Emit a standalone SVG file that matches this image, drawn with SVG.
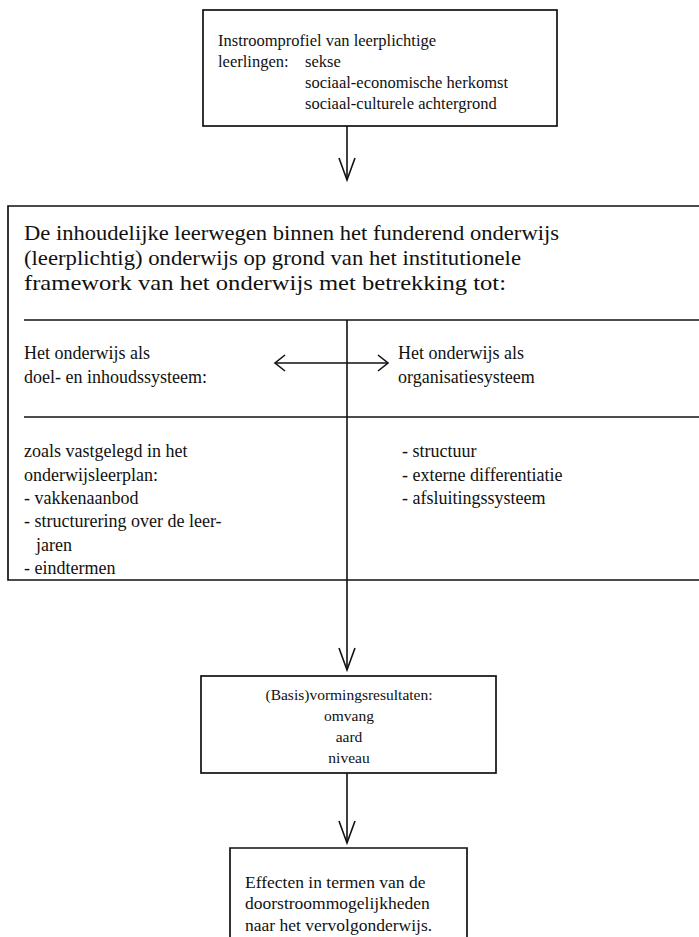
<svg xmlns="http://www.w3.org/2000/svg" width="699" height="937" viewBox="0 0 699 937">
  <style>
    .box { fill: none; stroke: #111; stroke-width: 1.7; }
    .ln { fill: none; stroke: #111; stroke-width: 1.6; }
    .hd { fill: none; stroke: #111; stroke-width: 1.6; stroke-linejoin: miter; }
    text { font-family: "Liberation Serif", "Times New Roman", serif; fill: #111; }
    .t1 { font-size: 16.5px; }
    .th { font-size: 21px; }
    .tm { font-size: 18px; }
    .tb { font-size: 18px; }
    .t3 { font-size: 15.5px; }
    .t4 { font-size: 17.5px; }
  </style>
  <rect width="699" height="937" fill="#fff"/>

  <g id="connectors">
    <!-- intake profile to learning paths -->
    <line class="ln" x1="347" y1="126" x2="347" y2="180"/>
    <polyline class="hd" points="339,158 347,180 355,158"/>
    <!-- central divider continuing to results -->
    <line class="ln" x1="347" y1="320" x2="347" y2="670"/>
    <polyline class="hd" points="339,648 347,670 355,648"/>
    <!-- results to effects -->
    <line class="ln" x1="347" y1="773" x2="347" y2="843"/>
    <polyline class="hd" points="339,821 347,843 355,821"/>
    <!-- two-way relation between the two systems -->
    <line class="ln" x1="275" y1="363" x2="388" y2="363"/>
    <polyline class="hd" points="285,355 275,363 285,371"/>
    <polyline class="hd" points="378,355 388,363 378,371"/>
  </g>

  <g id="instroom">
    <rect class="box" x="203" y="10" width="354" height="116"/>
    <text class="t1" x="218" y="46">Instroomprofiel van leerplichtige</text>
    <text class="t1" x="218" y="67">leerlingen: <tspan x="305">sekse</tspan></text>
    <text class="t1" x="305" y="88">sociaal-economische herkomst</text>
    <text class="t1" x="305" y="109">sociaal-culturele achtergrond</text>
  </g>

  <g id="leerwegen">
    <path class="box" d="M705,206 H8 V580 H705"/>
    <text class="th" x="24" y="240" textLength="535" lengthAdjust="spacingAndGlyphs">De inhoudelijke leerwegen binnen het funderend onderwijs</text>
    <text class="th" x="24" y="265" textLength="497" lengthAdjust="spacingAndGlyphs">(leerplichtig) onderwijs op grond van het institutionele</text>
    <text class="th" x="24" y="290" textLength="482" lengthAdjust="spacingAndGlyphs">framework van het onderwijs met betrekking tot:</text>
    <line class="ln" x1="24" y1="320" x2="705" y2="320"/>
    <line class="ln" x1="24" y1="417" x2="705" y2="417"/>
    <text class="tm" x="24" y="359">Het onderwijs als</text>
    <text class="tm" x="24" y="383">doel- en inhoudssysteem:</text>
    <text class="tm" x="398" y="359">Het onderwijs als</text>
    <text class="tm" x="398" y="383">organisatiesysteem</text>
    <text class="tb" x="24" y="457">zoals vastgelegd in het</text>
    <text class="tb" x="24" y="481">onderwijsleerplan:</text>
    <text class="tb" x="24" y="504">- vakkenaanbod</text>
    <text class="tb" x="24" y="527">- structurering over de leer-</text>
    <text class="tb" x="36" y="551">jaren</text>
    <text class="tb" x="24" y="574">- eindtermen</text>
    <text class="tb" x="402" y="457">- structuur</text>
    <text class="tb" x="402" y="481">- externe differentiatie</text>
    <text class="tb" x="402" y="504">- afsluitingssysteem</text>
  </g>

  <g id="resultaten">
    <rect class="box" x="201" y="676" width="295" height="97"/>
    <text class="t3" x="349" y="700" text-anchor="middle">(Basis)vormingsresultaten:</text>
    <text class="t3" x="349" y="721" text-anchor="middle">omvang</text>
    <text class="t3" x="349" y="742" text-anchor="middle">aard</text>
    <text class="t3" x="349" y="763" text-anchor="middle">niveau</text>
  </g>

  <g id="effecten">
    <path class="box" d="M230,940 V848 H467 V940"/>
    <text class="t4" x="245" y="888">Effecten in termen van de</text>
    <text class="t4" x="245" y="909">doorstroommogelijkheden</text>
    <text class="t4" x="245" y="931">naar het vervolgonderwijs.</text>
  </g>
</svg>
